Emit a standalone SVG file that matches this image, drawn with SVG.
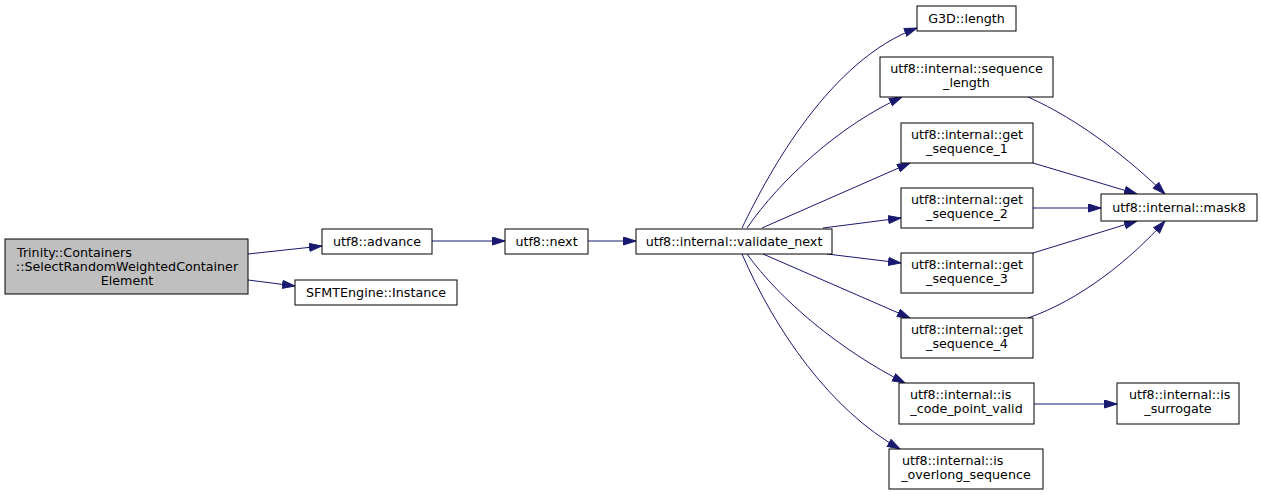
<svg xmlns="http://www.w3.org/2000/svg" width="1261" height="495" viewBox="0 0 1261 495">
<style>
.n rect{fill:#ffffff;stroke:#000000;stroke-width:1}
.n text{font-family:"DejaVu Sans",sans-serif;font-size:12.7px;fill:#000000}
.m{text-anchor:middle}
.e path{fill:none;stroke:#191970;stroke-width:1}
</style>
<defs>
<marker id="ah" markerUnits="userSpaceOnUse" markerWidth="14" markerHeight="10" refX="13" refY="4.5" orient="auto">
<path d="M0.5,0.5 L13,4.5 L0.5,8.5 z" fill="#191970" stroke="#191970" stroke-width="1"/>
</marker>
</defs>
<rect width="1261" height="495" fill="#ffffff"/>
<g class="e">
<path d="M248,254 L322,246" marker-end="url(#ah)"/>
<path d="M248,280 L295,286" marker-end="url(#ah)"/>
<path d="M432,241 L505,241" marker-end="url(#ah)"/>
<path d="M588,241 L636,241" marker-end="url(#ah)"/>
<path d="M742,228 C770,170 830,60 917,28" marker-end="url(#ah)"/>
<path d="M747,228 C780,180 840,125 902,97" marker-end="url(#ah)"/>
<path d="M762,228 L910,163" marker-end="url(#ah)"/>
<path d="M823,228 L901,218" marker-end="url(#ah)"/>
<path d="M827,254 L901,263" marker-end="url(#ah)"/>
<path d="M763,254 L910,318" marker-end="url(#ah)"/>
<path d="M747,254 C780,300 840,350 905,383" marker-end="url(#ah)"/>
<path d="M742,254 C775,330 830,410 900,449" marker-end="url(#ah)"/>
<path d="M1028,97 C1080,120 1130,160 1165,194" marker-end="url(#ah)"/>
<path d="M1033,163 L1137,194" marker-end="url(#ah)"/>
<path d="M1033,208 L1101,208" marker-end="url(#ah)"/>
<path d="M1033,253 L1137,221" marker-end="url(#ah)"/>
<path d="M1028,318 C1080,300 1130,260 1165,221" marker-end="url(#ah)"/>
<path d="M1034,404 L1117,404" marker-end="url(#ah)"/>
</g>
<g id="trinity" class="n">
<rect x="5" y="239" width="243" height="55" style="fill:#bfbfbf"/>
<text x="17" y="257">Trinity::Containers</text>
<text x="127" y="271" class="m">::SelectRandomWeightedContainer</text>
<text x="127" y="285" class="m">Element</text>
</g>
<g id="advance" class="n">
<rect x="322" y="229" width="110" height="25"/>
<text x="377" y="246" class="m">utf8::advance</text>
</g>
<g id="sfmt" class="n">
<rect x="295" y="280" width="162" height="25"/>
<text x="376" y="297" class="m">SFMTEngine::Instance</text>
</g>
<g id="next" class="n">
<rect x="505" y="229" width="83" height="25"/>
<text x="546.5" y="246" class="m">utf8::next</text>
</g>
<g id="validate_next" class="n">
<rect x="636" y="229" width="196" height="25"/>
<text x="734" y="246" class="m">utf8::internal::validate_next</text>
</g>
<g id="g3d_length" class="n">
<rect x="917" y="6" width="99" height="25"/>
<text x="966.5" y="23" class="m">G3D::length</text>
</g>
<g id="sequence_length" class="n">
<rect x="880" y="57" width="173" height="40"/>
<text x="966.5" y="73" class="m">utf8::internal::sequence</text>
<text x="966.5" y="87" class="m">_length</text>
</g>
<g id="get_sequence_1" class="n">
<rect x="901" y="123" width="132" height="40"/>
<text x="967" y="139" class="m">utf8::internal::get</text>
<text x="967" y="153" class="m">_sequence_1</text>
</g>
<g id="get_sequence_2" class="n">
<rect x="901" y="188" width="132" height="40"/>
<text x="967" y="204" class="m">utf8::internal::get</text>
<text x="967" y="218" class="m">_sequence_2</text>
</g>
<g id="get_sequence_3" class="n">
<rect x="901" y="253" width="132" height="40"/>
<text x="967" y="269" class="m">utf8::internal::get</text>
<text x="967" y="283" class="m">_sequence_3</text>
</g>
<g id="get_sequence_4" class="n">
<rect x="901" y="318" width="132" height="40"/>
<text x="967" y="334" class="m">utf8::internal::get</text>
<text x="967" y="348" class="m">_sequence_4</text>
</g>
<g id="mask8" class="n">
<rect x="1101" y="194" width="156" height="27"/>
<text x="1179" y="212" class="m">utf8::internal::mask8</text>
</g>
<g id="is_code_point_valid" class="n">
<rect x="899" y="383" width="135" height="41"/>
<text x="910" y="399">utf8::internal::is</text>
<text x="966.5" y="413" class="m">_code_point_valid</text>
</g>
<g id="is_surrogate" class="n">
<rect x="1117" y="383" width="122" height="41"/>
<text x="1129" y="399">utf8::internal::is</text>
<text x="1178" y="413" class="m">_surrogate</text>
</g>
<g id="is_overlong_sequence" class="n">
<rect x="889" y="449" width="154" height="40"/>
<text x="902" y="465">utf8::internal::is</text>
<text x="966" y="479" class="m">_overlong_sequence</text>
</g>
</svg>
